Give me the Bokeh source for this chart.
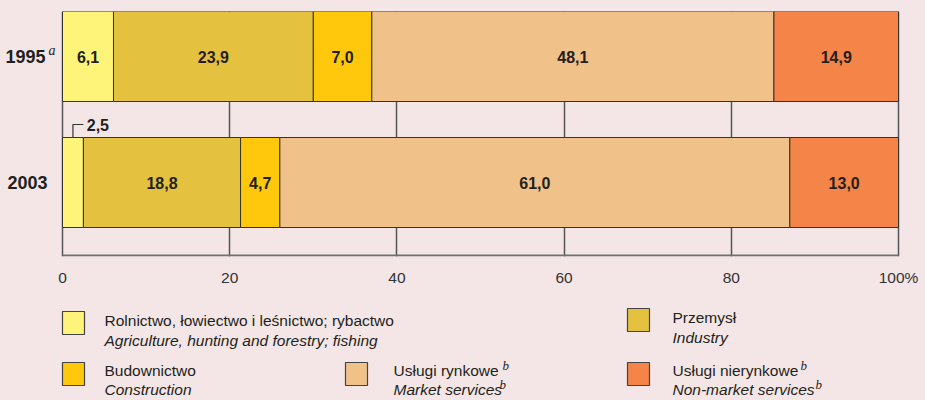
from bokeh.plotting import figure
from bokeh.models import ColumnDataSource, Range1d, FixedTicker, GlobalInlineStyleSheet
from bokeh.layouts import column
from bokeh.core.properties import value
from bokeh.embed import file_html
from bokeh.resources import INLINE

# ---------------- data ----------------
years = ["1995", "2003"]
year_sup = ["a", ""]
agri = [6.1, 2.5]
industry = [23.9, 18.8]
construction = [7.0, 4.7]
market = [48.1, 61.0]
nonmarket = [14.9, 13.0]
x_ticks = [0, 20, 40, 60, 80, 100]
x_tick_labels = ["0", "20", "40", "60", "80", "100%"]

legend_pl = ["Rolnictwo, łowiectwo i leśnictwo; rybactwo", "Przemysł", "Budownictwo",
             "Usługi rynkowe", "Usługi nierynkowe"]
legend_en = ["Agriculture, hunting and forestry; fishing", "Industry", "Construction",
             "Market services", "Non-market services"]
legend_sup = ["", "", "", "b", "b"]

# ---------------- style ----------------
BG = "#F4E6E6"
FONT = "Liberation Sans"
SERIF = "Liberation Serif"
TXT = "#231F20"
colors = ["#FFF47A", "#E4C23F", "#FFC80C", "#F0C188", "#F48447"]
series = ["agri", "industry", "construction", "market", "nonmarket"]

PX = 8.36              # pixels per percent point
ypos = [1, 0]          # 1995 on top, 2003 below
BAR_H = 90 / 126
Y_TOP = 1 + BAR_H / 2
Y_BOT = Y_TOP - 245 / 126
AXIS_Y = Y_TOP - 244 / 126
TOP_H = 296

src = ColumnDataSource(dict(y=ypos, agri=agri, industry=industry,
                            construction=construction, market=market,
                            nonmarket=nonmarket))

p = figure(width=925, height=TOP_H,
           x_range=Range1d(-62 / PX, (925 - 62) / PX), y_range=Range1d(Y_BOT, Y_TOP),
           output_backend="svg", toolbar_location=None,
           min_border_left=0, min_border_right=0, min_border_top=11,
           min_border_bottom=TOP_H - 11 - 245,
           background_fill_color=BG, border_fill_color=BG)
p.outline_line_color = None

p.hbar_stack(series, y="y", height=BAR_H, color=colors, line_color="#333333",
             line_width=1, source=src)

# value labels inside bars
vals = [agri, industry, construction, market, nonmarket]
lx, ly, lt = [], [], []
for i in range(len(years)):
    cum = 0.0
    for k, s in enumerate(vals):
        v = s[i]
        if not (k == 0 and v < 4):
            lx.append(cum + v / 2)
            ly.append(ypos[i])
            lt.append(f"{v:.1f}".replace(".", ","))
        cum += v
p.text(x=lx, y=ly, text=lt, text_align="center", text_baseline="middle",
       text_font=value(FONT), text_font_style="bold", text_font_size="16px",
       text_color=TXT)

# callout for small value in 2003
small = agri[1]
bar_top = ypos[1] + BAR_H / 2
call_y = bar_top + 13 / 126
p.line(x=[small / 2, small / 2, small], y=[bar_top, call_y, call_y],
       line_color="#333333", line_width=1.2)
p.text(x=[small + 0.4], y=[call_y], text=[f"{small:.1f}".replace(".", ",")],
       text_align="left", text_baseline="middle", text_font=value(FONT),
       text_font_style="bold", text_font_size="16px", text_color=TXT)

# category labels (left of bars)
p.text(x=[-17 / PX, -15 / PX], y=ypos, text=years, text_align="right",
       text_baseline="middle", text_font=value(FONT), text_font_style="bold",
       text_font_size="18px", text_color=TXT)
p.text(x=[-14 / PX], y=[ypos[0] + 6 / 126], text=[year_sup[0]], text_align="left",
       text_baseline="middle", text_font=value(SERIF), text_font_style="italic",
       text_font_size="14px", text_color=TXT)

# x axis
p.line(x=[x_ticks[0], x_ticks[-1]], y=[AXIS_Y, AXIS_Y], line_color="#707070",
       line_width=2)
p.xaxis.ticker = FixedTicker(ticks=x_ticks)
p.xaxis.major_label_overrides = {t: l for t, l in zip(x_ticks, x_tick_labels)}
p.xaxis.axis_line_color = None
p.xaxis.major_tick_line_color = None
p.xaxis.minor_tick_line_color = None
p.xaxis.major_tick_out = 0
p.xaxis.major_tick_in = 0
p.xaxis.major_label_standoff = 12
p.xaxis.major_label_text_font = FONT
p.xaxis.major_label_text_font_size = "15.5px"
p.xaxis.major_label_text_color = "#333333"
p.yaxis.visible = False

p.xgrid.ticker = FixedTicker(ticks=x_ticks)
p.xgrid.grid_line_color = "#555555"
p.xgrid.grid_line_width = 1.5
p.ygrid.grid_line_color = None

# ---------------- legend figure ----------------
lg = figure(width=925, height=400 - TOP_H, x_range=Range1d(0, 925),
            y_range=Range1d(400, TOP_H), output_backend="svg", toolbar_location=None,
            min_border=0, background_fill_color=BG, border_fill_color=BG)
lg.outline_line_color = None
lg.axis.visible = False
lg.grid.grid_line_color = None

sq_x = [62, 627, 62, 345, 627]
sq_top = [311, 308, 362, 362, 362]
tx = [104, 672, 104, 393, 672]
c1 = [320, 317, 370, 370, 370]
c2 = [340, 337, 389, 389, 389]

lg.quad(left=sq_x, right=[x + 22 for x in sq_x], top=sq_top,
        bottom=[t + 23 for t in sq_top], fill_color=colors,
        line_color="#444444", line_width=1.2)
lg.text(x=tx, y=c1, text=legend_pl, text_baseline="middle",
        text_font=value(FONT), text_font_size="15.5px", text_color=TXT)
lg.text(x=tx, y=c2, text=legend_en, text_baseline="middle",
        text_font=value(FONT), text_font_style="italic", text_font_size="15.5px",
        text_color=TXT)

sup_x1 = [502, 800]
sup_x2 = [499, 815]
sx, sy, st = [], [], []
j = 0
for i, s in enumerate(legend_sup):
    if s:
        sx += [sup_x1[j], sup_x2[j]]
        sy += [c1[i] - 5, c2[i] - 5]
        st += [s, s]
        j += 1
lg.text(x=sx, y=sy, text=st, text_baseline="middle", text_font=value(SERIF),
        text_font_style="italic", text_font_size="13px", text_color=TXT)

layout = column(p, lg, spacing=0,
                stylesheets=[GlobalInlineStyleSheet(css=f"body {{ background-color: {BG}; }}")])

open("out.html", "w").write(file_html(layout, INLINE))
